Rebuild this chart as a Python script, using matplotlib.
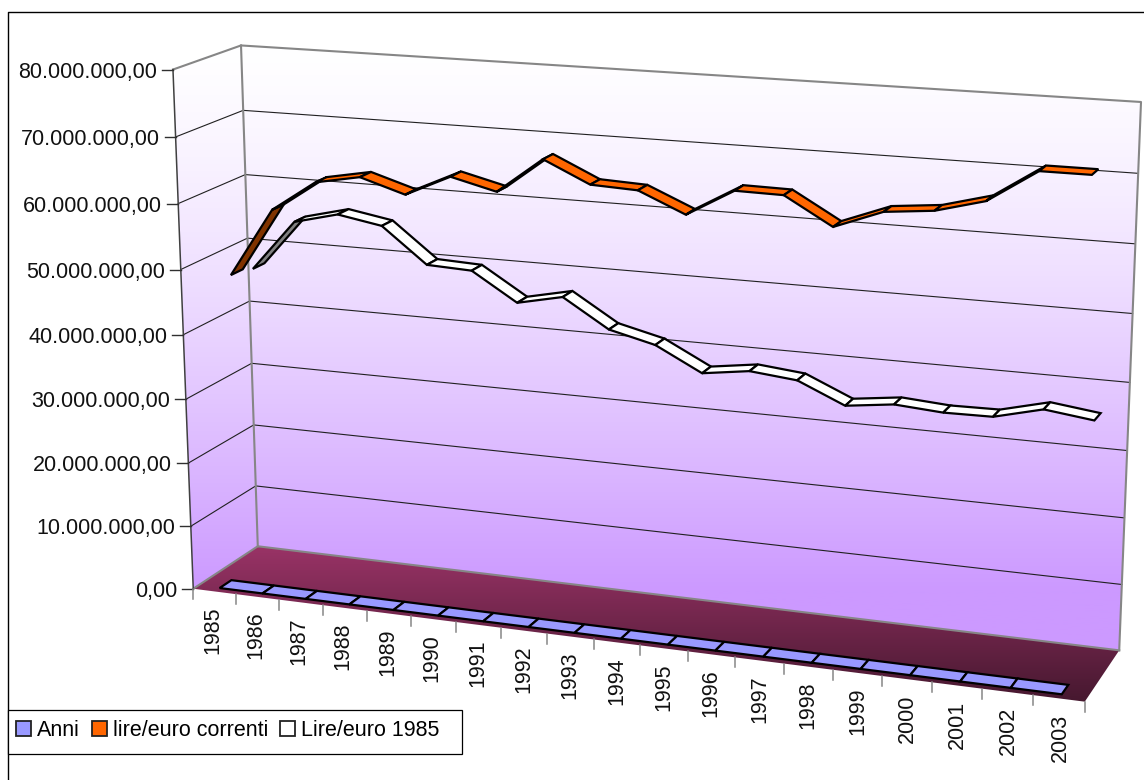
import numpy as np
import matplotlib
matplotlib.use("Agg")
import matplotlib.pyplot as plt
from matplotlib.patches import Patch, Polygon, Rectangle

plt.rcParams["font.family"] = ["Liberation Sans", "DejaVu Sans"]

years = [1985, 1986, 1987, 1988, 1989, 1990, 1991, 1992, 1993, 1994,
         1995, 1996, 1997, 1998, 1999, 2000, 2001, 2002, 2003]
# values in euro/lire
lire_correnti = [47.4e6, 58.0e6, 62.7e6, 64.0e6, 61.9e6, 65.1e6, 63.4e6, 68.7e6, 65.5e6, 65.2e6,
                 62.2e6, 66.2e6, 66.1e6, 62.1e6, 64.8e6, 65.5e6, 67.4e6, 72.1e6, 72.1e6]
lire_1985 = [46.7e6, 54.6e6, 56.3e6, 55.1e6, 49.7e6, 49.4e6, 45.1e6, 46.6e6, 42.3e6, 40.6e6,
             37.0e6, 38.0e6, 37.3e6, 34.2e6, 35.1e6, 34.6e6, 34.7e6, 36.5e6, 35.6e6]
value_ticks = [0, 10e6, 20e6, 30e6, 40e6, 50e6, 60e6, 70e6, 80e6]
value_labels = ["0,00", "10.000.000,00", "20.000.000,00", "30.000.000,00", "40.000.000,00",
                "50.000.000,00", "60.000.000,00", "70.000.000,00", "80.000.000,00"]
V_MAX = 80e6
FONT = 15.5

# where the corners of the 3d box land in the image: (x, depth, value) -> pixel
BOX_CORNERS = [((0, 0, 0), (193, 588)), ((0, 0, 1), (173, 70)), ((0, 1, 0), (258, 547)),
               ((0, 1, 1), (241, 45)), ((1, 1, 1), (1141, 102)), ((1, 1, 0), (1119, 650)),
               ((1, 0, 0), (1085, 702))]


def fit_projection(corners):
    rows = []
    for (x, y, z), (u, v) in corners:
        rows.append([x, y, z, 1, 0, 0, 0, 0, -u * x, -u * y, -u * z, -u])
        rows.append([0, 0, 0, 0, x, y, z, 1, -v * x, -v * y, -v * z, -v])
    return np.linalg.svd(np.array(rows, float))[2][-1].reshape(3, 4)


P = fit_projection(BOX_CORNERS)


def proj(x, depth, value):
    h = P @ np.array([x, depth, value / V_MAX, 1.0])
    return h[0] / h[2], h[1] / h[2]


def cat_x(i):
    return (i + 0.5) / len(years)


def gradient_fill(ax, corners, top_color, bottom_color, y_top, y_bottom, y_end, power=1.0):
    top = np.array(matplotlib.colors.to_rgb(top_color))
    bottom = np.array(matplotlib.colors.to_rgb(bottom_color))
    y = np.linspace(y_top, y_end, 512)
    t = (np.clip((y - y_top) / (y_bottom - y_top), 0, 1) ** power)[:, None, None]
    img = top[None, None, :] * (1 - t) + bottom[None, None, :] * t
    im = ax.imshow(img, extent=[0, 1144, y_end, y_top], aspect="auto", zorder=1)
    poly = Polygon(corners, closed=True, transform=ax.transData, fc="none", ec="none")
    ax.add_patch(poly)
    im.set_clip_path(poly)


def ribbon(ax, values, depth, color, dark_color, half_width=0.09):
    d0, d1 = depth - half_width, depth + half_width
    for i in range(len(values) - 1):
        a, b = cat_x(i), cat_x(i + 1)
        quad = np.array([proj(a, d0, values[i]), proj(a, d1, values[i]),
                         proj(b, d1, values[i + 1]), proj(b, d0, values[i + 1])])
        # underside of the ribbon shows when the quad flips over
        x, y = quad[:, 0], quad[:, 1]
        area = np.dot(x, np.roll(y, -1)) - np.dot(y, np.roll(x, -1))
        fc = color if area > 0 else dark_color
        ax.add_patch(Polygon(quad, closed=True, fc=fc, ec="black", lw=1.6,
                             joinstyle="miter", zorder=4))


fig = plt.figure(figsize=(11.44, 7.8), dpi=100)
ax = fig.add_axes([0, 0, 1, 1])

# walls and floor
wall_pts = [proj(0, 0, 0), proj(0, 0, V_MAX), proj(0, 1, V_MAX), proj(1, 1, V_MAX),
            proj(1, 1, 0), proj(0, 1, 0)]
floor_pts = [proj(0, 0, 0), proj(0, 1, 0), proj(1, 1, 0), proj(1, 0, 0)]
gradient_fill(ax, wall_pts, "#FFFFFF", "#CC99FF", 45, 590, 660, power=1.35)
gradient_fill(ax, floor_pts, "#993366", "#46182F", 547, 702, 702)

# gridlines
for v in value_ticks[1:-1]:
    xs, ys = zip(proj(0, 0, v), proj(0, 1, v), proj(1, 1, v))
    ax.plot(xs, ys, color="#202020", lw=0.8, zorder=2)

# box edges
GRAY = "#868686"
for pts in ([proj(0, 0, V_MAX), proj(0, 1, V_MAX), proj(1, 1, V_MAX), proj(1, 1, 0)],
            [proj(0, 1, V_MAX), proj(0, 1, 0)],
            [proj(0, 0, 0), proj(0, 1, 0), proj(1, 1, 0)]):
    xs, ys = zip(*pts)
    ax.plot(xs, ys, color=GRAY, lw=1.5, zorder=3)

# value axis
xs, ys = zip(proj(0, 0, 0), proj(0, 0, V_MAX))
ax.plot(xs, ys, color="#404040", lw=1.1, zorder=3)
for v, label in zip(value_ticks, value_labels):
    x, y = proj(0, 0, v)
    ax.plot([x - 11, x], [y, y], color="#303030", lw=1.0, zorder=3)
    ax.text(x - 16, y, label, ha="right", va="center_baseline", fontsize=FONT, color="#111111")

# category axis
for i in range(len(years) + 1):
    x, y = proj(i / len(years), 0, 0)
    ax.plot([x, x], [y, y + 10], color=GRAY, lw=1.1, zorder=3)
for i, year in enumerate(years):
    x, y = proj(cat_x(i), 0, 0)
    ax.text(x - 2 + 3 * i / 18, y + 15, str(year), rotation=90, ha="center", va="top",
            fontsize=FONT, color="#111111")

# series
ribbon(ax, years, 1 / 6, "#9999FF", "#5C5C99")
ribbon(ax, lire_correnti, 1 / 2, "#FF6600", "#803300")
ribbon(ax, lire_1985, 5 / 6, "#FFFFFF", "#808080")

# chart frame, its right and bottom sides fall outside the picture
ax.plot([8, 8, 1150, 1150], [790, 12, 12, 790], color="black", lw=1.0, zorder=5)

# legend box is drawn apart so the padding can differ per side
ax.add_patch(Rectangle((8, 710), 454, 44, fc="white", ec="black", lw=0.9, zorder=5))
handles = [Patch(fc="#9999FF", ec="#222222", lw=1.3, label="Anni"),
           Patch(fc="#FF6600", ec="#222222", lw=1.3, label="lire/euro correnti"),
           Patch(fc="#FFFFFF", ec="#222222", lw=1.3, label="Lire/euro 1985")]
leg = ax.legend(handles=handles, ncol=3, loc="lower left",
                bbox_to_anchor=(16, 741), bbox_transform=ax.transData,
                prop={"size": FONT}, frameon=False, borderaxespad=0, borderpad=0,
                handlelength=0.7, handleheight=0.66, handletextpad=0.28,
                columnspacing=0.55)
leg.set_zorder(6)

ax.set_xlim(0, 1144)
ax.set_ylim(780, 0)
ax.axis("off")
fig.savefig("out.png", dpi=100)
